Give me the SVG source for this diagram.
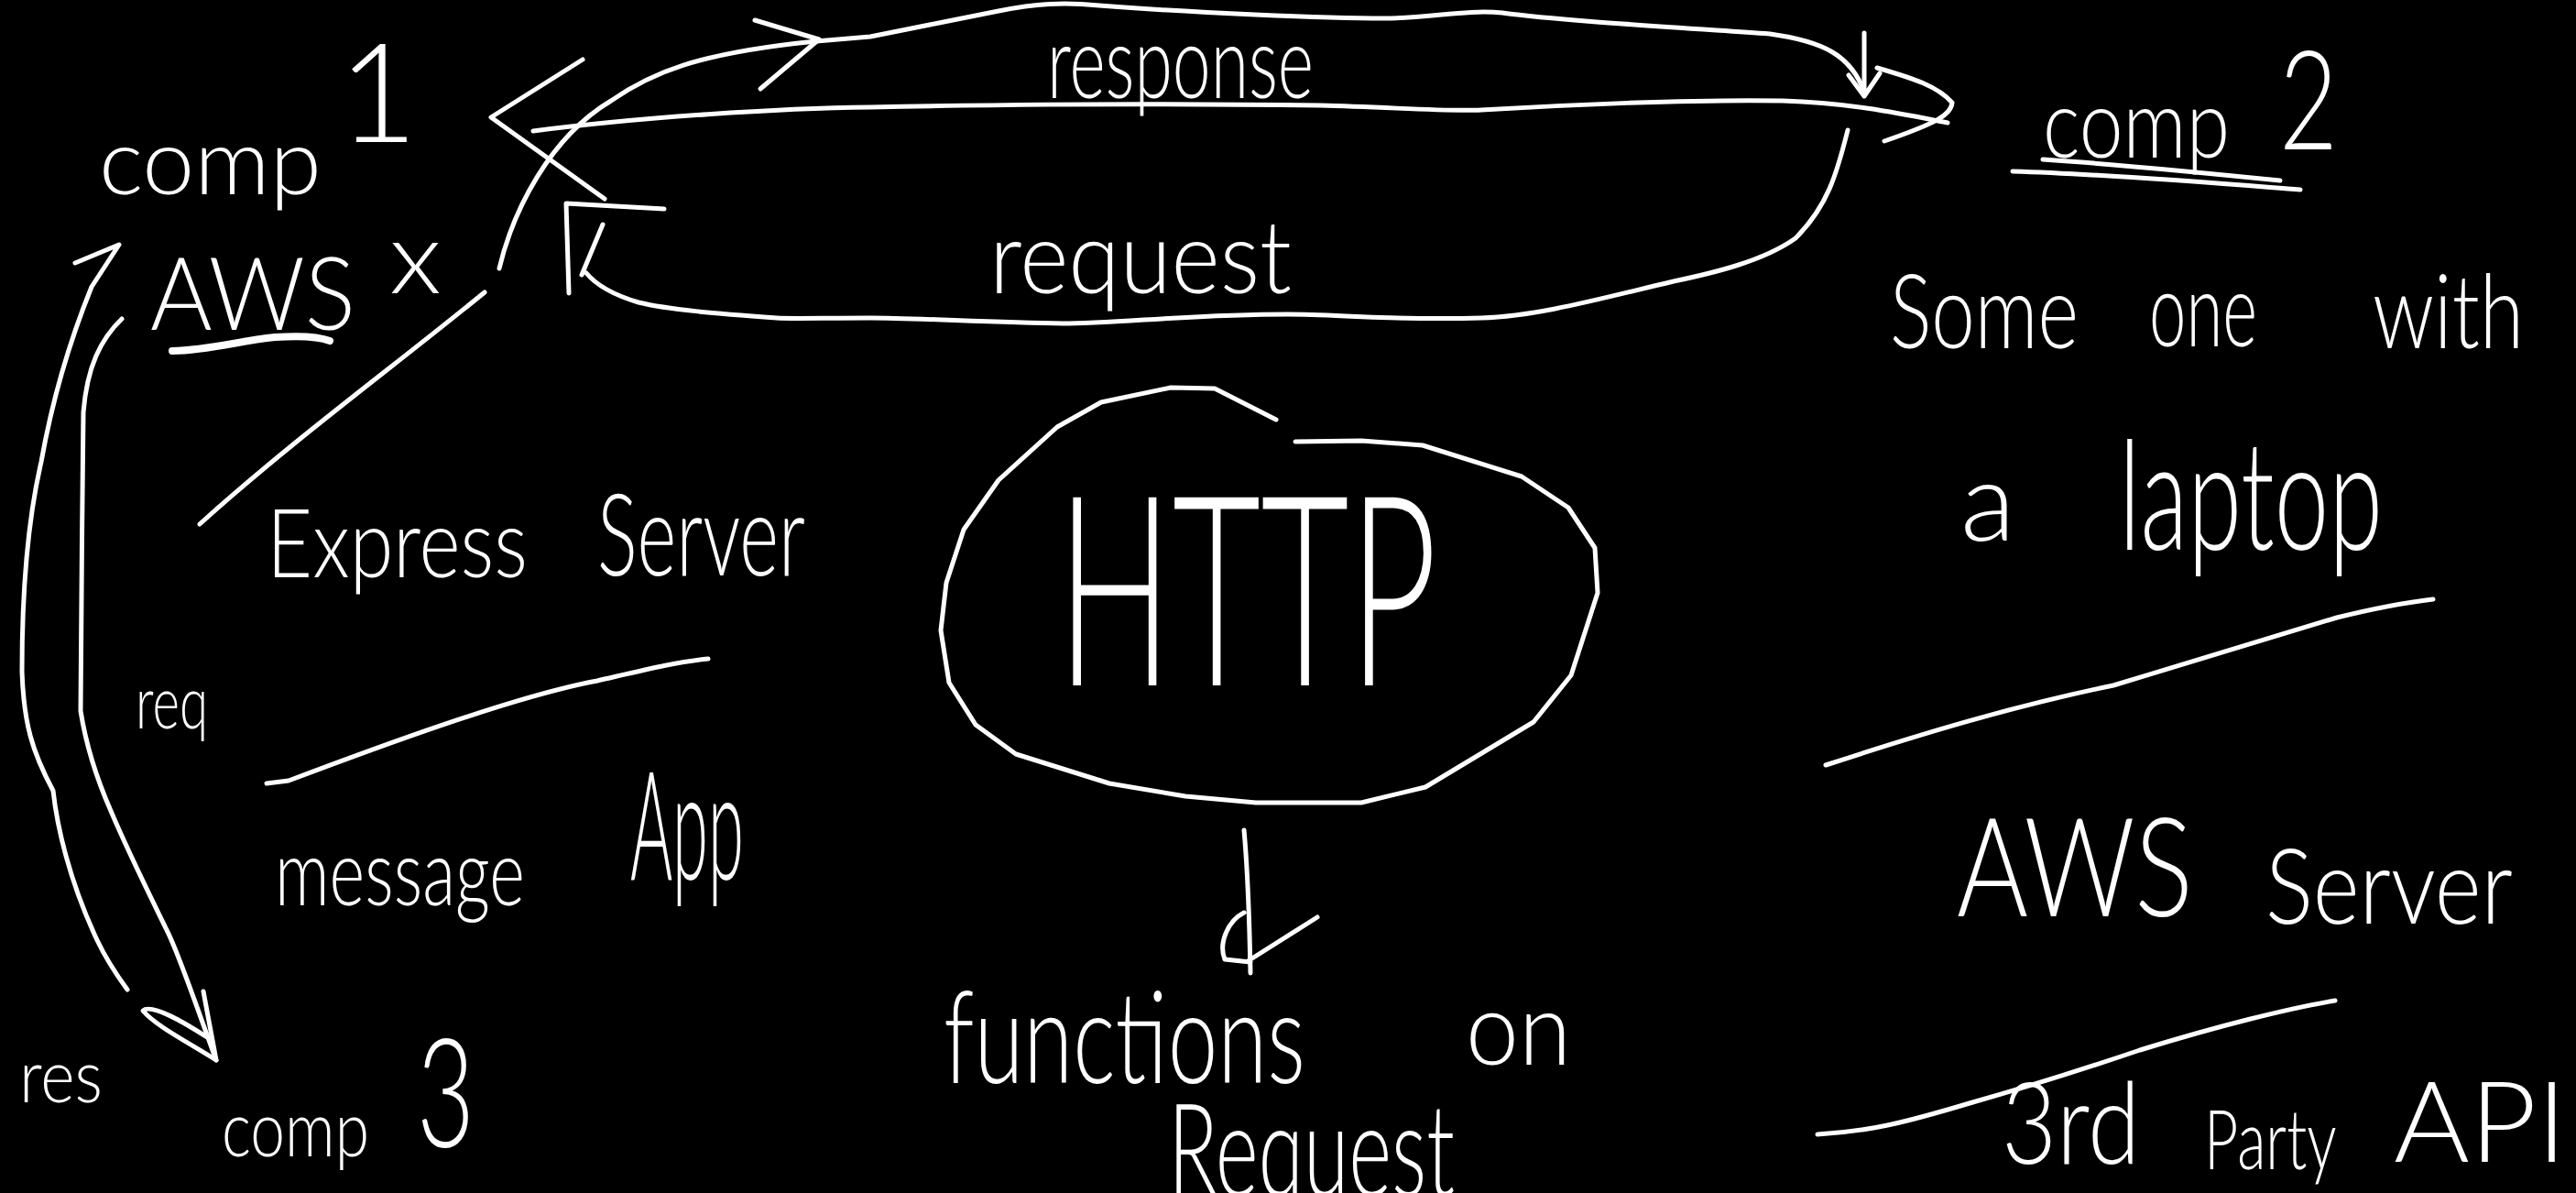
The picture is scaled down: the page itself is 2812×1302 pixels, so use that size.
<svg xmlns="http://www.w3.org/2000/svg" width="2812" height="1302" viewBox="0 0 2812 1302">
<style>
.s{fill:none;stroke:#fff;stroke-width:5;stroke-linecap:round;stroke-linejoin:round}
.u{fill:none;stroke:#fff;stroke-width:8;stroke-linecap:round;stroke-linejoin:round}
.t{fill:#fff;font-family:Lato,"Liberation Sans",Arial,sans-serif;font-weight:300}
</style>
<rect width="2812" height="1302" fill="#000"/>
<g id="connectors">
  <g id="top-arc">
    <path class="s" d="M545,293 C560,230 600,150 667,110 C710,80 760,58 891,45 L950,40 C1000,30 1040,22 1090,12 C1130,4 1160,2 1200,6 C1300,14 1450,20 1511,20 C1560,20 1600,10 1640,14 C1700,22 1800,28 1932,37 C1990,45 2020,60 2035,100"/>
    <path class="s" d="M824,22 L894,43 L830,97"/>
    <path class="s" d="M2035,36 L2035,105 M2018,82 L2035,105 L2052,80"/>
  </g>
  <g id="middle-line">
    <path class="s" d="M582,143 C700,128 850,118 950,117 C1050,115 1200,112 1441,115 C1520,117 1580,122 1617,120 C1700,115 1850,108 1946,110 C2020,112 2080,125 2126,134"/>
    <path class="s" d="M636,65 L536,128 L660,217"/>
    <path class="s" d="M2049,74 C2090,86 2115,94 2131,112 C2130,125 2115,134 2057,154"/>
  </g>
  <g id="request-loop">
    <path class="s" d="M2017,142 C2005,190 1995,225 1960,260 C1925,285 1870,298 1827,307 C1750,325 1680,345 1617,347 C1520,350 1460,343 1406,343 C1300,343 1220,353 1160,353 C1080,352 1000,347 950,347 C900,347 860,348 848,347 C780,342 730,338 697,330 C670,322 650,310 640,298"/>
    <path class="s" d="M621,320 L618,222 L725,228 M658,245 L635,300"/>
  </g>
  <g id="req-arrow">
    <path class="s" d="M82,287 L130,267 L100,313 C85,350 60,420 45,504 C32,560 24,640 24,733 C26,790 35,820 58,863 C62,900 75,960 106,1026 C115,1045 128,1065 139,1080"/>
  </g>
  <g id="res-arrow">
    <path class="s" d="M133,348 C110,370 95,400 91,450 C90,550 88,700 88,776 C95,820 110,860 121,885 C140,930 165,980 182,1015 C195,1040 215,1100 236,1157"/>
    <path class="s" d="M236,1157 C210,1140 170,1120 156,1103 C165,1095 200,1115 226,1132 M222,1082 L236,1157"/>
  </g>
  <g id="http-arrow">
    <path class="s" d="M1358,906 C1362,950 1364,1010 1365,1062 M1438,1001 L1362,1049 M1358,996 C1340,1005 1330,1030 1337,1047 L1365,1050"/>
  </g>
  <text class="t" font-size="110" x="1143" y="107" textLength="291" lengthAdjust="spacingAndGlyphs">response</text>
  <text class="t" font-size="110" x="1080" y="320" textLength="330" lengthAdjust="spacingAndGlyphs">request</text>
  <text class="t" font-size="80" x="148" y="795" textLength="79" lengthAdjust="spacingAndGlyphs">req</text>
  <text class="t" font-size="80" x="21" y="1203" textLength="91" lengthAdjust="spacingAndGlyphs">res</text>
</g>
<g id="comp1">
  <text class="t" font-size="100"><tspan x="108" y="212" textLength="243" lengthAdjust="spacingAndGlyphs">comp</tspan> <tspan x="369" y="155" font-size="150">1</tspan></text>
  <text class="t" font-size="110"><tspan x="164" y="360" textLength="224" lengthAdjust="spacingAndGlyphs">AWS</tspan> <tspan x="425" y="320" font-size="110" textLength="57" lengthAdjust="spacingAndGlyphs">x</tspan></text>
  <path class="u" d="M188,383 C230,382 260,372 300,368 C330,366 350,368 360,372"/>
  <path class="s" d="M529,319 C430,400 320,480 218,572"/>
</g>
<g id="express-server">
  <text class="t" font-size="105"><tspan x="291" y="630" textLength="285" lengthAdjust="spacingAndGlyphs">Express</tspan> <tspan x="652" y="628" font-size="125" textLength="227" lengthAdjust="spacingAndGlyphs">Server</tspan></text>
  <path class="s" d="M291,855 L315,852 C400,820 560,760 652,743 C700,732 740,722 773,719"/>
  <text class="t" font-size="100"><tspan x="300" y="988" textLength="273" lengthAdjust="spacingAndGlyphs">message</tspan> <tspan x="688" y="960" font-size="165" textLength="124" lengthAdjust="spacingAndGlyphs">App</tspan></text>
</g>
<g id="comp3">
  <text class="t" font-size="85"><tspan x="242" y="1262" textLength="161" lengthAdjust="spacingAndGlyphs">comp</tspan> <tspan x="455" y="1252" font-size="165" textLength="63" lengthAdjust="spacingAndGlyphs">3</tspan></text>
</g>
<g id="http">
  <polyline class="s" points="1393,458 1326,424 1278,423 1202,439 1154,466 1090,524 1052,578 1033,636 1027,688 1036,745 1065,791 1109,823 1211,855 1294,869 1371,876 1486,876 1556,859 1674,788 1715,737 1744,647 1741,598 1712,554 1661,520 1553,486 1486,481 1414,482"/>
  <text class="t" font-size="290" x="1154" y="748" textLength="415" lengthAdjust="spacingAndGlyphs">HTTP</text>
</g>
<g id="functions">
  <text class="t" font-size="140"><tspan x="1030" y="1182" textLength="395" lengthAdjust="spacingAndGlyphs">functions</tspan> <tspan x="1600" y="1162" font-size="110" textLength="115" lengthAdjust="spacingAndGlyphs">on</tspan> <tspan x="1275" y="1305" font-size="140" textLength="313" lengthAdjust="spacingAndGlyphs">Request</tspan></text>
</g>
<g id="comp2">
  <text class="t" font-size="105"><tspan x="2230" y="172" textLength="204" lengthAdjust="spacingAndGlyphs">comp</tspan> <tspan x="2488" y="163" font-size="150" textLength="64" lengthAdjust="spacingAndGlyphs">2</tspan></text>
  <path class="s" d="M2197,187 C2300,190 2420,200 2511,207 M2230,174 C2320,180 2420,190 2489,197"/>
  <text class="t" font-size="112"><tspan x="2063" y="380" textLength="206" lengthAdjust="spacingAndGlyphs">Some</tspan> <tspan x="2346" y="378" textLength="118" lengthAdjust="spacingAndGlyphs">one</tspan> <tspan x="2590" y="380" textLength="165" lengthAdjust="spacingAndGlyphs">with</tspan></text>
  <text class="t" font-size="160"><tspan x="2140" y="590" font-size="120" textLength="60" lengthAdjust="spacingAndGlyphs">a</tspan> <tspan x="2313" y="600" font-size="165" textLength="288" lengthAdjust="spacingAndGlyphs">laptop</tspan></text>
  <path class="s" d="M1993,835 C2100,800 2200,770 2307,748 C2400,720 2500,690 2551,674 C2600,662 2630,657 2656,654"/>
</g>
<g id="aws-server">
  <text class="t" font-size="150"><tspan x="2136" y="1000" textLength="258" lengthAdjust="spacingAndGlyphs">AWS</tspan> <tspan x="2473" y="1008" font-size="115" textLength="270" lengthAdjust="spacingAndGlyphs">Server</tspan></text>
  <path class="s" d="M1984,1238 C2040,1235 2080,1225 2150,1204 C2200,1190 2280,1165 2336,1146 C2420,1120 2500,1100 2549,1092"/>
</g>
<g id="third-party-api">
  <text class="t" font-size="90"><tspan x="2185" y="1270" font-size="125" textLength="151" lengthAdjust="spacingAndGlyphs">3rd</tspan> <tspan x="2406" y="1276" textLength="143" lengthAdjust="spacingAndGlyphs">Party</tspan> <tspan x="2613" y="1268" font-size="122" textLength="189" lengthAdjust="spacingAndGlyphs">API</tspan></text>
</g>
</svg>
